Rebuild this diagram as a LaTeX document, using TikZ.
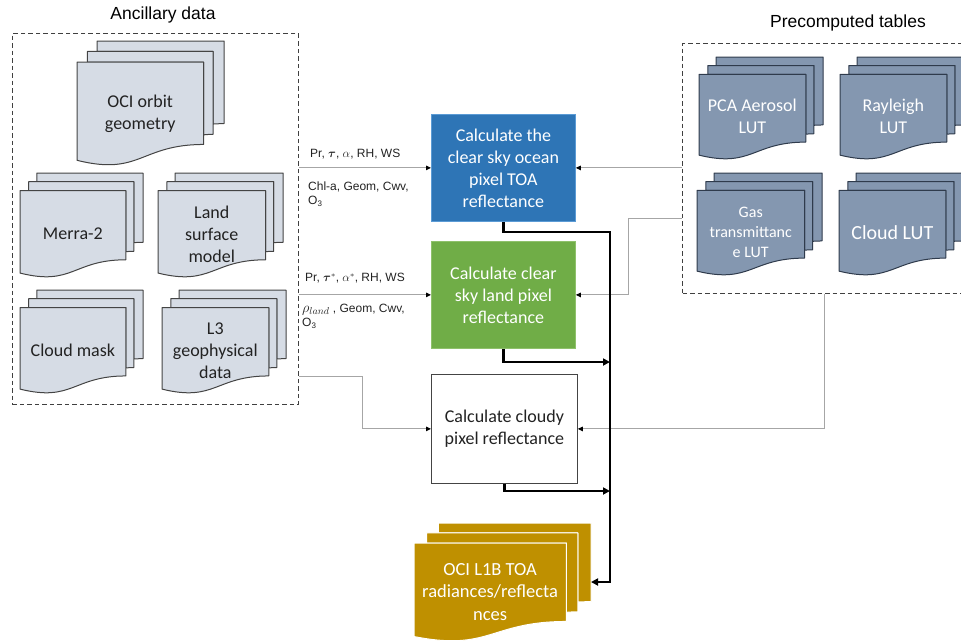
\documentclass[tikz,border=0pt]{standalone}
\usepackage{amsmath}
\usepackage{fontspec}
\setmainfont{Carlito}
\newfontfamily\arialf{Liberation Sans}
\usetikzlibrary{arrows.meta}
\definecolor{ancfill}{HTML}{D6DCE5}
\definecolor{ancdraw}{HTML}{444444}
\definecolor{prefill}{HTML}{8497B0}
\definecolor{predraw}{HTML}{2F3B4C}
\definecolor{outfill}{HTML}{BF9000}
\definecolor{oceanfill}{HTML}{2E75B6}
\definecolor{oceandraw}{HTML}{5B9BD5}
\definecolor{landfill}{HTML}{70AD47}
\definecolor{landdraw}{HTML}{8FC16B}
\definecolor{lgray}{HTML}{A6A6A6}
\definecolor{dgray}{HTML}{404040}
\definecolor{txtdark}{HTML}{222222}

\tikzset{
  ancdoc/.style={fill=ancfill, draw=ancdraw, line width=1pt, line join=round},
  predoc/.style={fill=prefill, draw=predraw, line width=1pt, line join=round},
  outdoc/.style={fill=outfill, draw=white, line width=1pt, line join=round},
  doctext/.style={align=center, font=\fontsize{18}{22}\selectfont, inner sep=0pt},
  dbox/.style={draw=dgray, line width=1.2pt, dash pattern=on 4.5pt off 3pt, inner sep=0pt, anchor=north west},
  procbox/.style={align=center, font=\fontsize{18}{22}\selectfont, inner sep=0pt, anchor=north west, line width=0.8pt},
  gline/.style={draw=lgray, line width=1pt, -{Triangle[length=5pt,width=4.5pt,color=black]}},
  thickarrow/.style={draw=black, line width=2.6pt, -{Triangle[length=7pt,width=7pt]}},
  lab/.style={font=\arialf\fontsize{12}{14}\selectfont, inner sep=0pt, anchor=west, align=left, text=txtdark},
  title/.style={font=\arialf\fontsize{17.5}{20}\selectfont, inner sep=0pt, text=black}
}

% multidocument shape: name, x, y, W, H, path style, node style, text
\newcommand\mdoc[8]{%
 \begin{scope}[shift={(#2,#3)},x=#4pt,y=-#5pt]
  \path[#6] (0.1376,0.0840) -- (0.1376,0) -- (1,0) -- (1,0.6663) .. controls (0.9630,0.6663) and (0.9259,0.6698) .. (0.9259,0.6698) -- (0.9259,0.0840) -- cycle;
  \path[#6] (0.0709,0.1701) -- (0.0709,0.0840) -- (0.9259,0.0840) -- (0.9259,0.7524) .. controls (0.8934,0.7524) and (0.8609,0.7570) .. (0.8609,0.7570) -- (0.8609,0.1701) -- cycle;
  \path[#6] (0,0.9621) .. controls (0.4305,1.0899) and (0.4305,0.8344) .. (0.8609,0.8344) -- (0.8609,0.1701) -- (0,0.1701) -- cycle;
  \node[doctext,#7] (#1) at (0.43,0.585) {#8};
  \coordinate (#1-e) at (1,0.5);
 \end{scope}}

\begin{document}
\begin{tikzpicture}[x=1pt,y=-1pt]
\useasboundingbox (0,0) rectangle (961,640);

% titles
\node[title] (tanc) at (163,15) {Ancillary data};
\node[title] (tpre) at (848,23) {Precomputed tables};

% dashed group boxes
\node[dbox, minimum width=286pt, minimum height=371pt] (anc) at (11.7,33) {};
\node[dbox, minimum width=300pt, minimum height=250pt] (pre) at (682,43) {};

% ancillary documents
\mdoc{oci}{77}{41}{147}{124}{ancdoc}{text=txtdark}{OCI orbit\\geometry}
\mdoc{merra}{20}{173}{123}{104}{ancdoc}{text=txtdark}{Merra-2}
\mdoc{lsm}{158}{173}{125}{104}{ancdoc}{text=txtdark}{Land\\surface\\model}
\mdoc{cmask}{20}{290}{123}{103}{ancdoc}{text=txtdark}{Cloud mask}
\mdoc{lthree}{162}{290}{124}{103}{ancdoc}{text=txtdark}{L3\\geophysical\\data}

% precomputed tables
\mdoc{pca}{699}{57}{124}{102}{predoc}{text=white}{PCA Aerosol\\LUT}
\mdoc{ray}{840}{57}{124}{102}{predoc}{text=white}{Rayleigh\\LUT}
\mdoc{gas}{697}{173}{125}{102}{predoc}{text=white, font=\fontsize{16}{20}\selectfont}{Gas\\transmittanc\\e LUT}
\mdoc{clut}{839}{173}{124}{102}{predoc}{text=white, font=\fontsize{20}{24}\selectfont}{Cloud LUT}

% output
\mdoc{out}{414}{523}{177}{118}{outdoc}{text=white, font=\fontsize{18.5}{22.5}\selectfont}{OCI L1B TOA\\radiances/reflecta\\nces}

% process boxes
\node[procbox, fill=oceanfill, draw=oceandraw, text=white, minimum width=144pt, minimum height=107pt] (ocean) at (431,114) {Calculate the\\clear sky ocean\\pixel TOA\\reflectance};
\node[procbox, fill=landfill, draw=landdraw, text=white, minimum width=144pt, minimum height=107pt] (land) at (431,241) {Calculate clear\\sky land pixel\\reflectance};
\node[procbox, fill=white, draw=ancdraw, text=txtdark, minimum width=146pt, minimum height=109pt] (cloudy) at (431,374) {Calculate cloudy\\pixel reflectance};

% labels
\node[lab] (l1) at (310,154) {Pr, $\boldsymbol{\tau}$, $\alpha$, RH, WS};
\node[lab] (l2) at (308,194) {Chl-a, Geom, Cwv,\\O\textsubscript{3}};
\node[lab] (l3) at (305,278) {Pr, $\boldsymbol{\tau}^{*}$, $\alpha^{*}$, RH, WS};
\node[lab] (l4) at (302,316) {{\fontsize{14.5}{14}\selectfont$\rho_{land}$} , Geom, Cwv,\\O\textsubscript{3}};

% thin grey connectors
\coordinate (cb1) at (362,376);
\coordinate (cb2) at (628,218);
\coordinate (cb3) at (824,428);
\draw[gline] (anc.east |- ocean.west) -- (ocean.west);
\draw[gline] (anc.east |- land.west) -- (land.west);
\draw[gline] (anc.east |- cb1) -- (cb1) |- (cloudy.west);
\draw[gline] (pre.west |- ocean.east) -- (ocean.east);
\draw[gline] (pre.west |- cb2) -- (cb2) |- (land.east);
\draw[gline] (pre.south -| cb3) |- (cloudy.east);

% thick connectors
\coordinate (bus) at (610,232);
\coordinate (j2) at (610,362);
\coordinate (j3) at (610,491);
\draw[thickarrow] (ocean.south) |- (bus) -- (bus |- out-e) -- (out-e);
\draw[thickarrow] (land.south) |- (j2);
\draw[thickarrow] (cloudy.south) |- (j3);
\end{tikzpicture}
\end{document}
